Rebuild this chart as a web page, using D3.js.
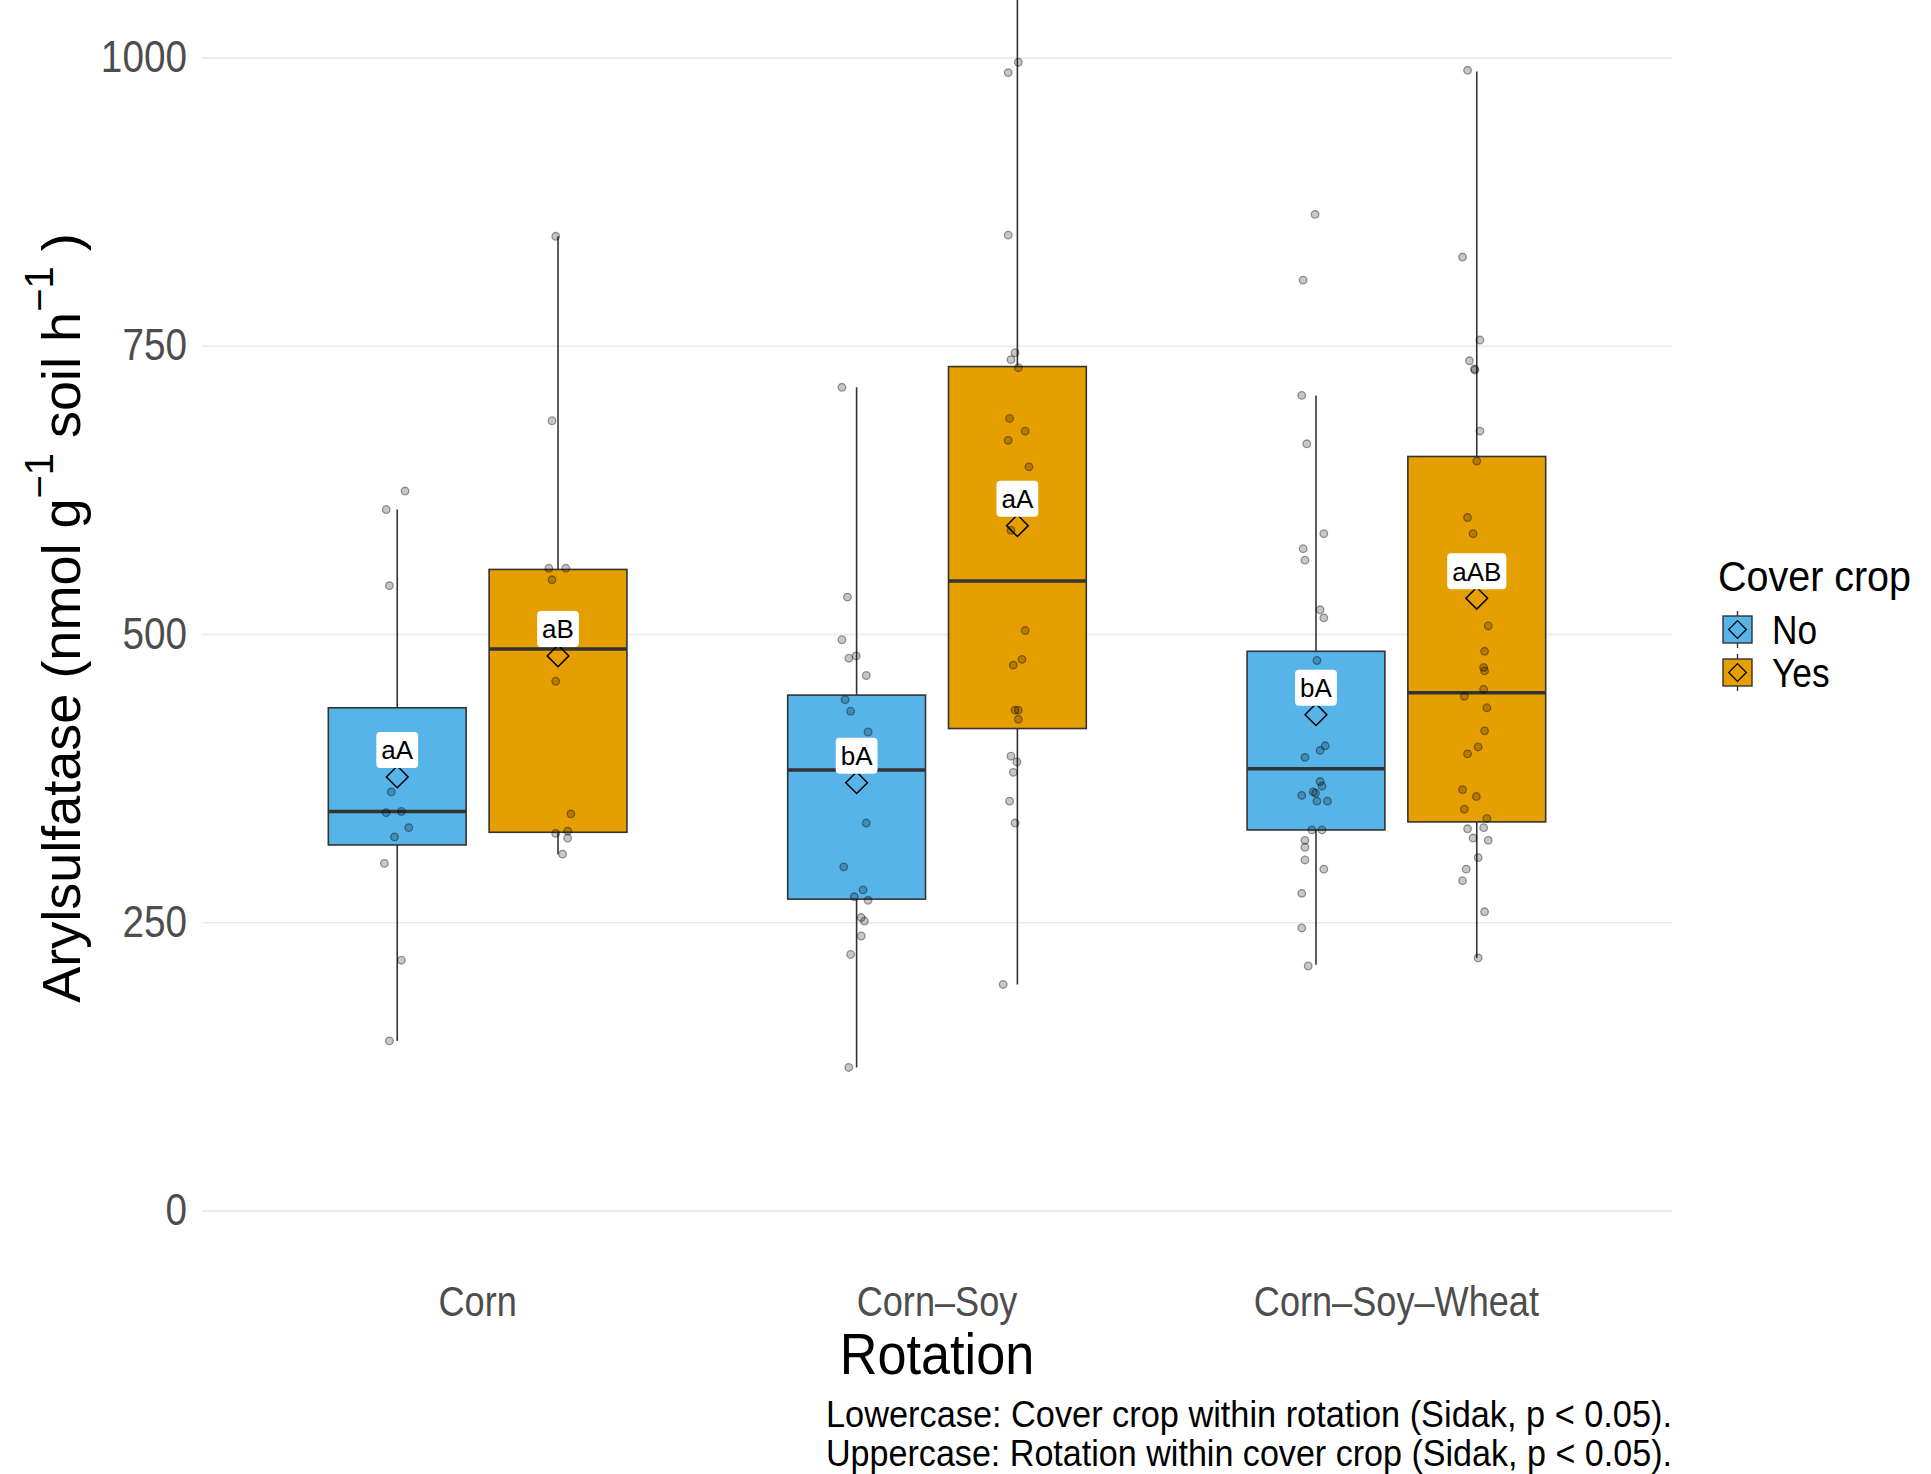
<!DOCTYPE html>
<html>
<head>
<meta charset="utf-8">
<script src="https://cdn.jsdelivr.net/npm/d3@7/dist/d3.min.js"></script>
<style>
  body { margin: 0; background: #fff; }
  text { font-family: "Liberation Sans", Arial, sans-serif; }
</style>
</head>
<body>
<div id="chart"></div>
<script>
var rotations = ["Corn", "Corn–Soy", "Corn–Soy–Wheat"];
var coverCrops = ["No", "Yes"];
var yTicks = [0, 250, 500, 750, 1000];

// one entry per box: Corn No, Corn Yes, Corn–Soy No, Corn–Soy Yes, C–S–W No, C–S–W Yes
var groupRotation = ["Corn", "Corn", "Corn–Soy", "Corn–Soy", "Corn–Soy–Wheat", "Corn–Soy–Wheat"];
var groupCover = ["No", "Yes", "No", "Yes", "No", "Yes"];
var q1 = [317, 328, 270, 418, 330, 337];
var medians = [346, 487, 382, 546, 383, 449];
var q3 = [436, 556, 447, 732, 485, 654];
var whiskerLow = [147, 309, 124, 196, 213, 219];
var whiskerHigh = [608, 845, 714, 1150, 707, 988];
var means = [376, 481, 371, 594, 430, 531];
var letters = ["aA", "aB", "bA", "aA", "bA", "aAB"];

// observations (values) and their jitter (fraction of a category step)
var cornNo = [608, 624, 542, 363, 345, 346, 332, 324, 301, 217, 147];
var cornNoJitter = [-0.024, 0.017, -0.017, -0.013, -0.024, 0.009, 0.025, -0.006, -0.028, 0.009, -0.017];
var cornYes = [845, 685, 557, 557, 547, 459, 344, 327, 329, 323, 309];
var cornYesJitter = [-0.005, -0.013, -0.02, 0.017, -0.013, -0.005, 0.028, -0.005, 0.021, 0.021, 0.01];
var csNo = [714, 532, 495, 479, 481, 464, 443, 433, 415, 336, 298, 278, 272, 269, 254, 251, 238, 222, 124];
var csNoJitter = [-0.032, -0.02, -0.032, -0.017, -0.001, 0.021, -0.025, -0.013, 0.025, 0.021, -0.028, 0.014, -0.005, 0.025, 0.01, 0.017, 0.01, -0.013, -0.017];
var csYes = [996, 987, 846, 744, 738, 731, 687, 676, 668, 645, 590, 503, 473, 478, 434, 434, 426, 394, 389, 380, 355, 336, 196];
var csYesJitter = [0.002, -0.02, -0.02, -0.005, -0.014, 0.002, -0.017, 0.017, -0.02, 0.025, -0.014, 0.017, -0.009, 0.01, -0.005, 0.002, 0.002, -0.014, -0.001, -0.009, -0.017, -0.005, -0.031];
var cswNo = [864, 807, 707, 665, 587, 574, 564, 521, 514, 477, 403, 399, 393, 372, 368, 360, 362, 363, 355, 355, 330, 330, 321, 315, 304, 296, 275, 245, 212];
var cswNoJitter = [-0.002, -0.028, -0.031, -0.02, 0.017, -0.028, -0.024, 0.009, 0.017, 0.002, 0.02, 0.009, -0.024, 0.009, 0.013, -0.031, -0.001, -0.006, 0.002, 0.025, -0.009, 0.013, -0.024, -0.024, -0.024, 0.017, -0.031, -0.031, -0.017];
var cswYes = [989, 827, 755, 737, 730, 729, 676, 650, 601, 587, 507, 485, 471, 468, 452, 446, 436, 416, 402, 396, 365, 359, 348, 340, 331, 332, 323, 321, 306, 296, 286, 259, 219];
var cswYesJitter = [-0.02, -0.031, 0.007, -0.016, -0.005, -0.004, 0.007, 0, -0.02, -0.008, 0.025, 0.017, 0.015, 0.017, 0.015, -0.027, 0.022, 0.017, 0.003, -0.02, -0.031, -0.001, -0.027, 0.022, -0.02, 0.015, -0.008, 0.025, 0.003, -0.023, -0.031, 0.017, 0.003];

var pointValues = [cornNo, cornYes, csNo, csYes, cswNo, cswYes];
var pointJitter = [cornNoJitter, cornYesJitter, csNoJitter, csYesJitter, cswNoJitter, cswYesJitter];

var colors = { "No": "#56B4E9", "Yes": "#E69F00" };

var width = 1931,
    height = 1474,
    margins = { top: 0, right: 259, bottom: 206, left: 202 };
var plotRight = width - margins.right,
    plotBottom = height - margins.bottom;

function squeeze(sel, k) {
  sel.each(function() {
    var len = this.getComputedTextLength();
    d3.select(this).attr('textLength', len * k).attr('lengthAdjust', 'spacingAndGlyphs');
  });
}

var svg = d3.select('#chart').append('svg')
  .attr('width', width)
  .attr('height', height);

var x = d3.scaleBand()
  .domain(rotations)
  .range([margins.left, plotRight])
  .paddingInner(0)
  .paddingOuter(0.1);

var xInner = d3.scaleBand()
  .domain(coverCrops)
  .range([0, x.bandwidth()])
  .paddingInner(1 / 7)
  .paddingOuter(0.5);

var y = d3.scaleLinear()
  .domain([-50, 1050])
  .range([plotBottom, margins.top]);

// gridlines + y tick labels
var yAxis = d3.axisLeft(y)
  .tickValues(yTicks)
  .tickFormat(d3.format('d'))
  .tickSize(-(plotRight - margins.left))
  .tickPadding(15);

var gy = svg.append('g')
  .attr('transform', 'translate(' + margins.left + ',0)')
  .call(yAxis);
gy.select('.domain').remove();
gy.selectAll('line').attr('stroke', '#ebebeb').attr('stroke-width', 1.6);
gy.selectAll('text')
  .attr('font-size', 44)
  .attr('fill', '#4d4d4d')
  .attr('font-family', '"Liberation Sans", Arial, sans-serif');
squeeze(gy.selectAll('text'), 0.88);

// x tick labels
var xAxis = d3.axisBottom(x).tickSize(0).tickPadding(17);
var gx = svg.append('g')
  .attr('transform', 'translate(0,' + plotBottom + ')')
  .call(xAxis);
gx.select('.domain').remove();
gx.selectAll('text')
  .attr('font-size', 43)
  .attr('fill', '#4d4d4d')
  .attr('font-family', '"Liberation Sans", Arial, sans-serif');
squeeze(gx.selectAll('text'), 0.84);

svg.append('clipPath').attr('id', 'panel')
  .append('rect')
  .attr('x', margins.left).attr('y', margins.top)
  .attr('width', plotRight - margins.left)
  .attr('height', plotBottom - margins.top);

var plot = svg.append('g').attr('clip-path', 'url(#panel)');

function centerX(i) {
  return x(groupRotation[i]) + xInner(groupCover[i]) + xInner.bandwidth() / 2;
}

var idx = d3.range(groupRotation.length);
var boxW = xInner.bandwidth();

// whiskers
plot.selectAll('.whisker-hi').data(idx).enter().append('line')
  .attr('x1', centerX).attr('x2', centerX)
  .attr('y1', function(i) { return y(q3[i]); })
  .attr('y2', function(i) { return y(whiskerHigh[i]); })
  .attr('stroke', '#333').attr('stroke-width', 1.6);
plot.selectAll('.whisker-lo').data(idx).enter().append('line')
  .attr('x1', centerX).attr('x2', centerX)
  .attr('y1', function(i) { return y(q1[i]); })
  .attr('y2', function(i) { return y(whiskerLow[i]); })
  .attr('stroke', '#333').attr('stroke-width', 1.6);

// boxes
plot.selectAll('.box').data(idx).enter().append('rect')
  .attr('x', function(i) { return centerX(i) - boxW / 2; })
  .attr('y', function(i) { return y(q3[i]); })
  .attr('width', boxW)
  .attr('height', function(i) { return y(q1[i]) - y(q3[i]); })
  .attr('fill', function(i) { return colors[groupCover[i]]; })
  .attr('stroke', '#333').attr('stroke-width', 1.6);

plot.selectAll('.median').data(idx).enter().append('line')
  .attr('x1', function(i) { return centerX(i) - boxW / 2; })
  .attr('x2', function(i) { return centerX(i) + boxW / 2; })
  .attr('y1', function(i) { return y(medians[i]); })
  .attr('y2', function(i) { return y(medians[i]); })
  .attr('stroke', '#333').attr('stroke-width', 3.5);

// jittered observations
idx.forEach(function(i) {
  plot.selectAll('.pt' + i).data(pointValues[i]).enter().append('circle')
    .attr('cx', function(d, j) { return centerX(i) + pointJitter[i][j] * x.step(); })
    .attr('cy', function(d) { return y(d); })
    .attr('r', 3.8)
    .attr('fill', '#000').attr('fill-opacity', 0.22)
    .attr('stroke', '#000').attr('stroke-opacity', 0.38).attr('stroke-width', 1.3);
});

// means
var diamond = d3.symbol().type(d3.symbolDiamond2).size(300);
plot.selectAll('.mean').data(idx).enter().append('path')
  .attr('d', diamond)
  .attr('transform', function(i) { return 'translate(' + centerX(i) + ',' + y(means[i]) + ')'; })
  .attr('fill', 'none').attr('stroke', '#000').attr('stroke-width', 1.5);

// letter labels
var labels = svg.selectAll('.lbl').data(idx).enter().append('g')
  .attr('transform', function(i) { return 'translate(' + centerX(i) + ',' + (y(means[i]) - 27) + ')'; });
labels.append('rect').attr('fill', '#fff').attr('rx', 4);
labels.append('text')
  .attr('text-anchor', 'middle')
  .attr('dy', '0.36em')
  .attr('font-size', 26)
  .attr('fill', '#000')
  .text(function(i) { return letters[i]; });
labels.each(function() {
  var t = d3.select(this).select('text').node();
  var w = t.getComputedTextLength();
  d3.select(this).select('rect')
    .attr('x', -w / 2 - 5).attr('y', -18)
    .attr('width', w + 10).attr('height', 36);
});

// axis titles
var xt = svg.append('text')
  .attr('x', (margins.left + plotRight) / 2)
  .attr('y', 1374)
  .attr('text-anchor', 'middle')
  .attr('font-size', 58)
  .attr('fill', '#000')
  .text('Rotation');
squeeze(xt, 0.9);

var yt = svg.append('text')
  .attr('transform', 'translate(80,' + ((margins.top + plotBottom) / 2 - 16) + ') rotate(-90)')
  .attr('text-anchor', 'middle')
  .attr('font-size', 54)
  .attr('fill', '#000');
yt.append('tspan').text('Arylsulfatase (nmol g');
yt.append('tspan').attr('dy', -27).attr('font-size', 40).text('−1');
yt.append('tspan').attr('dy', 27).text('  soil h');
yt.append('tspan').attr('dy', -27).attr('font-size', 40).text('−1');
yt.append('tspan').attr('dy', 27).text(' )');

// legend
var legend = svg.append('g');
legend.append('text')
  .attr('x', 1718).attr('y', 591)
  .attr('font-size', 42)
  .attr('fill', '#000')
  .text('Cover crop')
  .attr('textLength', 193)
  .attr('lengthAdjust', 'spacingAndGlyphs');

var keys = legend.selectAll('.key').data(coverCrops).enter().append('g')
  .attr('transform', function(d, i) { return 'translate(1723,' + (616 + i * 43) + ')'; });
keys.append('line')
  .attr('x1', 14.5).attr('x2', 14.5).attr('y1', -5).attr('y2', 32)
  .attr('stroke', '#333').attr('stroke-width', 1.4);
keys.append('rect')
  .attr('width', 29).attr('height', 27)
  .attr('fill', function(d) { return colors[d]; })
  .attr('stroke', '#333').attr('stroke-width', 1.4);
keys.append('path')
  .attr('d', d3.symbol().type(d3.symbolDiamond2).size(200))
  .attr('transform', 'translate(14.5,13.5)')
  .attr('fill', 'none').attr('stroke', '#000').attr('stroke-width', 1.3);
var kt = keys.append('text')
  .attr('x', 49).attr('y', 28)
  .attr('font-size', 41)
  .attr('fill', '#000')
  .text(function(d) { return d; });
squeeze(kt, 0.86);

// caption
var caption = svg.append('g');
var capLines = ["Lowercase: Cover crop within rotation (Sidak, p < 0.05).",
                "Uppercase: Rotation within cover crop (Sidak, p < 0.05)."];
caption.selectAll('text').data(capLines).enter().append('text')
  .attr('x', plotRight)
  .attr('y', function(d, i) { return 1427 + i * 39; })
  .attr('text-anchor', 'end')
  .attr('font-size', 36)
  .attr('fill', '#000')
  .attr('textLength', 846)
  .attr('lengthAdjust', 'spacingAndGlyphs')
  .text(function(d) { return d; });
</script>
</body>
</html>
